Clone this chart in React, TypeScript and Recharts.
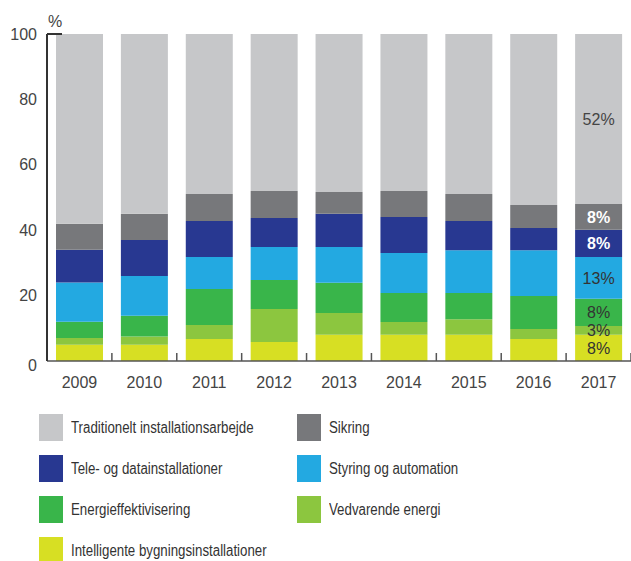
import { BarChart, Bar, XAxis, YAxis, LabelList } from "recharts";

const years = ["2009", "2010", "2011", "2012", "2013", "2014", "2015", "2016", "2017"];

// andele i procent, nederste serie først
const intelligente = [5, 5, 6.7, 5.8, 8, 8, 8, 6.7, 8];
const vedvarende = [2, 2.5, 4.3, 10.1, 6.7, 3.9, 4.8, 3.1, 2.7];
const energi = [5, 6.3, 11, 8.9, 9.2, 8.9, 8, 10.1, 8.3];
const styring = [12, 12.2, 9.8, 10.1, 11, 12.2, 13.1, 14, 12.8];
const tele = [10, 11, 11, 8.8, 10.1, 11, 8.9, 6.8, 8.3];
const sikring = [8, 8, 8.3, 8.3, 6.7, 8, 8.3, 7, 7.9];
const traditionelt = [58, 55, 48.9, 48, 48.3, 48, 48.9, 52.3, 52];

// etiketter på sidste søjle (2017)
const labels2017 = ["8%", "3%", "8%", "13%", "8%", "8%", "52%"];

const yTicks = [0, 20, 40, 60, 80, 100];

const series = [
  { key: "intelligente", name: "Intelligente bygningsinstallationer", color: "#d7df23", values: intelligente, labelColor: "#333", bold: false },
  { key: "vedvarende", name: "Vedvarende energi", color: "#8cc63f", values: vedvarende, labelColor: "#333", bold: false },
  { key: "energi", name: "Energieffektivisering", color: "#39b54a", values: energi, labelColor: "#333", bold: false },
  { key: "styring", name: "Styring og automation", color: "#23a9e1", values: styring, labelColor: "#333", bold: false },
  { key: "tele", name: "Tele- og datainstallationer", color: "#283891", values: tele, labelColor: "#fff", bold: true },
  { key: "sikring", name: "Sikring", color: "#77787b", values: sikring, labelColor: "#fff", bold: true },
  { key: "traditionelt", name: "Traditionelt installationsarbejde", color: "#c6c7c9", values: traditionelt, labelColor: "#444", bold: false },
];

const chartData = years.map((year, i) => {
  const row: any = { year };
  series.forEach((s) => {
    row[s.key] = s.values[i];
  });
  return row;
});

// legendens rækkefølge som i originalen
const legendOrder = ["traditionelt", "sikring", "tele", "styring", "energi", "vedvarende", "intelligente"];

const FONT = '"Liberation Sans", Arial, sans-serif';

function YearTick(props: any) {
  const { x, y, payload } = props;
  const off = payload?.offset ?? 32.4;
  return (
    <g>
      <line x1={x + off} x2={x + off} y1={y - 8} y2={y} stroke="#555" strokeWidth={1.5} />
      <text x={x} y={y + 27} textAnchor="middle" fill="#444" fontSize={16} fontFamily={FONT}>
        {payload.value}
      </text>
    </g>
  );
}

function PercentTick(props: any) {
  const { x, y, payload } = props;
  return (
    <g>
      {payload.value === 100 && (
        <>
          <line x1={x + 10} x2={x + 25} y1={y} y2={y} stroke="#333" strokeWidth={2} />
          <text x={x + 18} y={y - 7} textAnchor="middle" fill="#444" fontSize={16} fontFamily={FONT}>
            %
          </text>
        </>
      )}
      <text x={x} y={y} dy={payload.value === 0 ? "0.6em" : "0.35em"} textAnchor="end" fill="#444" fontSize={16} fontFamily={FONT}>
        {payload.value}
      </text>
    </g>
  );
}

function makeLabel(idx: number, color: string, bold: boolean) {
  return (props: any) => {
    const { x, y, width, height, index } = props;
    if (index !== years.length - 1) return null;
    return (
      <text
        x={x + width / 2}
        y={y + height / 2}
        dy="0.35em"
        textAnchor="middle"
        fill={color}
        fontSize={16}
        fontWeight={bold ? "bold" : "normal"}
        fontFamily={FONT}
      >
        {labels2017[idx]}
      </text>
    );
  };
}

export default function App() {
  return (
    <div style={{ position: "absolute", left: 0, top: 0, width: 631, height: 561, background: "#fff", fontFamily: FONT }}>
      <BarChart width={631} height={400} data={chartData} margin={{ top: 34, right: 0, left: 0, bottom: 0 }} barSize={47}>
        <XAxis
          dataKey="year"
          height={39}
          tickSize={0}
          tickMargin={0}
          tickLine={false}
          axisLine={{ stroke: "#555", strokeWidth: 1.5 }}
          tick={<YearTick />}
          interval={0}
        />
        <YAxis
          width={47}
          domain={[0, 100]}
          ticks={yTicks}
          tickSize={0}
          tickMargin={10}
          tickLine={false}
          axisLine={{ stroke: "#333", strokeWidth: 2 }}
          tick={<PercentTick />}
          interval={0}
        />
        {series.map((s, i) => (
          <Bar key={s.key} dataKey={s.key} name={s.name} stackId="a" fill={s.color} isAnimationActive={false}>
            <LabelList dataKey={s.key} content={makeLabel(i, s.labelColor, s.bold)} />
          </Bar>
        ))}
      </BarChart>
      <div
        style={{
          display: "grid",
          gridTemplateColumns: "258px 300px",
          rowGap: 14,
          paddingLeft: 39,
          paddingTop: 14,
        }}
      >
        {legendOrder.map((k) => {
          const s = series.find((d) => d.key === k)!;
          return (
            <div key={k} style={{ display: "flex", alignItems: "center", height: 27 }}>
              <div style={{ width: 24, height: 27, background: s.color, flexShrink: 0 }} />
              <span
                style={{
                  marginLeft: 8,
                  fontSize: 16,
                  color: "#333",
                  whiteSpace: "nowrap",
                  display: "inline-block",
                  transform: "scaleX(0.83)",
                  transformOrigin: "left center",
                }}
              >
                {s.name}
              </span>
            </div>
          );
        })}
      </div>
    </div>
  );
}
